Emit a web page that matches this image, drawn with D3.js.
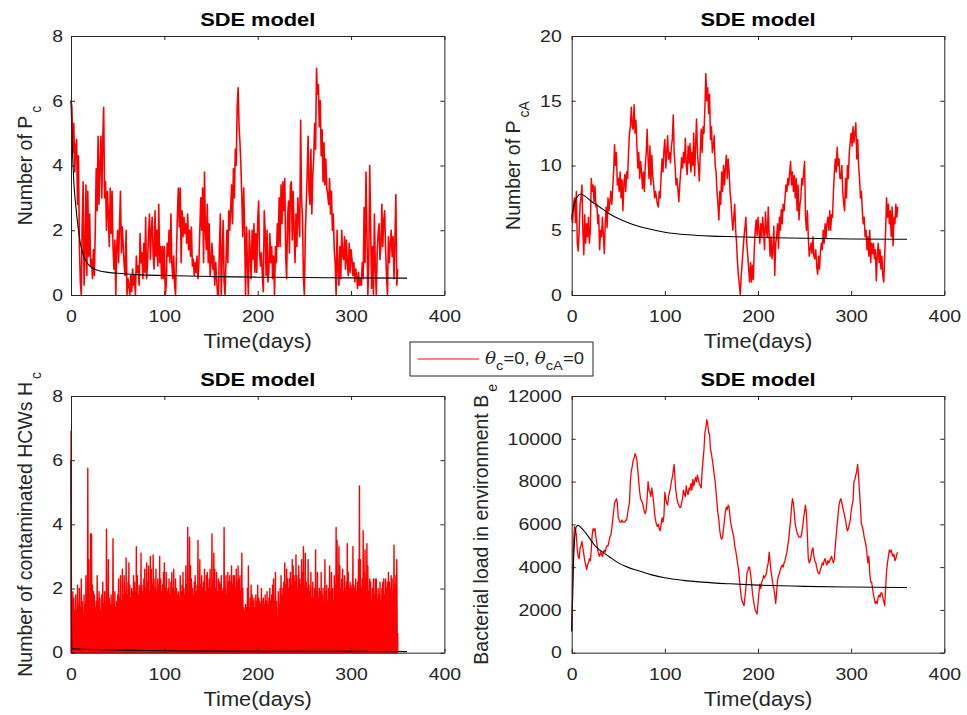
<!DOCTYPE html>
<html><head><meta charset="utf-8">
<script src="https://cdn.jsdelivr.net/npm/d3@7"></script>
<style>
body{margin:0;background:#fff}
text{font-family:"Liberation Sans",Arial,Helvetica,sans-serif;fill:#262626}
</style>
</head><body>
<svg id="c" width="967" height="715"></svg>
<script>
// ---------- tick values ----------
const xTicks = [0, 100, 200, 300, 400];
const pcTicks = [0, 2, 4, 6, 8];
const pcaTicks = [0, 5, 10, 15, 20];
const hcTicks = [0, 2, 4, 6, 8];
const beTicks = [0, 2000, 4000, 6000, 8000, 10000, 12000];

// ---------- SDE paths (one value per day, day 0..350) ----------
const pcRed = [
6.0,5.8,4.4,5.3,3.8,4.6,4.8,2.8,4.3,1.5, 0.4,0,2.2,3.5,0.3,1.3,3.4,0.6,3.2,1.2,
2.5,0.9,1.1,0.5,1.4,0.6,2.0,3.9,2.6,4.9, 2.8,4.0,4.9,3.0,4.8,5.8,3.0,3.5,2.0,3.2,
2.5,1.5,3.3,1.9,3.2,1.5,0.8,1.7,0,1.5, 2.0,1.0,2.2,3.2,1.3,2.1,1.5,0.9,0.6,2.0,
0,0.5,0.3,0,0.6,0.1,0.8,0.3,0.6,0, 1.2,0.7,0.9,0.3,1.9,1.0,1.3,0.5,1.6,0.7,
2.4,0.5,1.0,1.8,2.5,1.1,2.0,2.4,1.2,0.8, 2.6,1.2,2.0,0.9,2.8,1.0,1.5,0.5,1.5,0.5,
1.5,0,0.3,1.6,1.2,2.0,1.0,2.5,1.0,0.5, 1.2,0.3,0,1.3,2.5,3.3,2.1,3.3,1.0,2.6,
1.8,2.4,1.9,2.2,1.6,2.5,1.4,2.0,1.2,2.1, 0.9,1.1,0.6,1.0,0.7,1.2,0.5,1.0,2.0,3.0,
2.0,3.3,1.0,3.8,2.0,1.4,2.8,1.0,2.2,0.6, 1.0,1.6,0.8,1.2,0.3,1.0,0.5,0,0,1.5,
2.5,0,1.2,2.3,0.4,0,1.0,2.0,1.0,2.6, 2.0,2.6,3.4,2.2,3.9,3.0,4.5,4.0,5.8,6.4,
5.2,4.7,4.0,3.0,1.8,3.3,2.0,0,2.1,1.0, 0,2.0,1.3,0.5,2.0,1.1,2.2,0.7,1.9,0.7,
2.3,2.9,1.3,0.9,1.3,0.6,0.1,2.6,2.0,0.6, 2.0,0.4,0.8,1.9,1.0,1.5,0.5,1.2,0,1.5,
1.0,2.2,1.5,3.0,1.5,3.4,2.2,3.5,2.6,3.6, 1.2,0.5,2.4,2.9,1.3,3.4,3.5,1.7,3.2,2.0,
1.0,2.5,1.5,3.0,2.4,1.8,5.4,2.9,2.4,0.5, 0,1.9,2.8,3.7,4.9,3.2,2.8,4.5,2.5,3.7,
4.2,5.3,4.5,7.0,6.2,6.5,5.2,6.0,4.3,5.1, 3.5,4.7,3.4,4.2,3.3,3.1,2.8,3.6,2.5,3.2,
2.0,2.5,1.4,1.0,0,2.0,0.8,0.3,1.5,0.5, 2.0,1.2,1.1,1.8,0.8,1.7,1.0,0.6,1.6,0.7,
1.4,1.1,0.6,1.0,0.4,0.8,0.6,0.2,0.7,0.3, 0.5,0.3,1.0,0.5,2.7,1.0,3.8,2.0,0,1.0,
4.0,2.1,0.2,1.5,0,2.5,0.9,0,1.3,1.9, 2.2,1.1,1.5,2.8,1.5,2.3,2.6,1.4,0.6,0,
1.8,1.0,1.6,2.0,1.2,1.8,0.5,1.7,3.1,0.3,0.8];

const pcaRed = [
6.0,5.6,7.0,7.5,5.6,8.0,4.0,3.4,5.0,7.0, 7.5,8.5,5.0,3.1,6.2,4.0,5.5,4.5,6.0,4.0,
5.0,9.0,8.0,8.5,7.2,8.4,6.8,7.0,5.5,6.2, 3.5,5.0,4.5,6.0,4.6,3.2,5.5,6.8,5.2,7.5,
6.5,7.2,8.0,7.0,8.2,9.5,11.6,10.0,11.0,8.5, 9.0,8.0,9.5,7.5,8.9,6.5,8.5,9.3,8.0,9.5,
9.0,11.0,12.5,13.0,14.5,13.0,12.8,14.7,12.5,13.5, 11.5,9.8,11.0,9.0,10.3,9.5,8.2,9.5,8.0,10.0,
11.0,12.8,10.5,9.0,11.5,8.5,10.8,9.2,8.5,7.5, 8.0,7.5,7.0,6.8,8.0,7.5,9.2,10.5,9.5,11.2,
12.0,9.8,11.0,12.3,10.5,11.0,10.2,11.5,12.0,13.9, 11.0,10.0,8.5,9.0,8.2,7.2,8.5,9.5,10.6,9.8,
11.0,10.2,12.1,10.0,9.3,11.5,10.2,11.7,9.5,11.0, 10.0,12.5,9.2,11.5,13.6,11.0,10.0,8.8,11.0,12.8,
11.0,13.0,12.5,14.5,17.1,15.0,16.0,14.0,15.5,12.0, 13.0,11.0,11.5,12.3,10.0,9.5,8.0,7.0,5.8,8.0,
7.0,9.5,8.0,10.0,8.5,9.8,10.8,9.0,10.5,9.5, 8.0,7.2,6.0,5.0,6.0,7.0,5.0,4.0,2.5,1.5,
0.8,0.0,1.5,2.5,3.5,4.5,5.2,6.0,4.0,3.0, 2.0,1.0,2.5,1.0,2.3,1.2,3.5,5.0,5.8,4.6,
6.0,5.0,4.0,5.5,4.5,6.0,5.0,3.5,6.4,5.0, 4.5,6.8,4.5,3.0,4.5,2.8,3.6,5.3,1.5,4.0,
4.5,5.5,3.6,6.0,5.0,6.6,5.5,7.0,6.5,7.5, 8.5,8.0,9.0,8.5,9.5,10.3,8.5,9.5,8.0,9.2,
7.5,9.0,6.5,8.5,5.8,7.0,7.5,9.0,8.5,9.5, 10.3,6.0,5.0,6.5,4.5,3.0,3.5,4.0,3.2,4.5,
3.0,2.8,3.5,2.2,1.6,3.0,2.0,3.3,4.0,3.5, 5.0,4.0,5.5,4.4,5.5,6.0,5.0,6.5,5.0,6.2,
6.0,8.0,9.5,10.5,9.5,11.4,10.0,10.5,9.0,9.0, 10.0,8.0,7.0,6.5,9.0,7.5,10.0,9.0,11.0,11.8,
12.5,11.5,13.0,11.8,12.5,13.3,10.5,12.0,10.0,9.0, 7.5,8.0,6.5,5.5,6.0,4.5,5.0,3.5,4.5,3.0,
5.0,2.5,4.0,3.2,4.0,2.8,3.5,1.1,3.0,4.0, 2.5,3.5,2.0,3.0,1.5,1.0,3.0,5.0,7.5,6.0,
7.0,5.5,6.5,4.5,6.8,3.8,6.0,5.5,7.0,6.0,6.8];

// daily peak of the contaminated-HCW path (the path falls back to the trough between peaks)
const hcPeak = [
6.9,1.6,1.9,1.7,1.3,1.8,1.3,2.1,1.5,2.0, 1.4,2.3,1.6,1.2,1.8,1.5,2.4,1.5,5.75,2.9,
1.8,3.7,3.7,2.1,1.9,1.8,1.4,1.6,2.4,1.6, 1.9,1.7,1.3,1.8,2.2,1.5,1.9,1.6,3.85,1.5,
2.9,1.7,1.5,1.8,1.4,3.55,1.5,1.9,1.4,1.6, 1.8,2.3,1.7,2.4,1.6,2.6,1.8,2.4,1.9,2.95,
1.8,2.2,2.8,2.1,1.7,2.0,1.9,2.4,2.2,1.9, 3.3,2.4,1.8,2.1,2.0,3.1,2.1,1.9,2.3,2.6,
2.0,2.8,2.2,2.7,1.9,3.0,2.6,2.1,3.05,2.3, 2.0,2.6,1.9,2.3,2.1,3.0,2.3,1.9,2.1,2.5,
2.8,2.0,2.5,1.9,2.0,2.3,1.8,2.2,2.5,2.0, 2.6,1.9,2.3,2.0,1.8,1.9,1.7,2.4,1.9,2.1,
2.5,2.0,1.8,2.7,2.1,3.9,1.9,3.6,2.7,2.3, 2.0,1.8,2.2,2.4,1.9,2.1,3.5,2.0,2.9,2.1,
2.4,2.0,2.2,2.6,1.9,2.4,2.5,2.0,2.3,2.6, 2.0,3.7,2.2,3.1,2.6,2.0,2.5,1.9,2.3,2.2,
2.1,2.4,1.9,2.0,3.9,2.0,2.4,1.8,2.5,2.2, 2.4,2.2,2.7,2.1,2.4,2.4,2.0,2.6,2.2,2.7,
2.3,2.4,1.9,3.1,2.0,1.4,1.3,1.5,1.4,2.0, 2.7,1.4,1.7,2.1,1.8,1.6,1.7,1.4,1.8,1.6,
2.1,1.7,1.6,1.5,2.0,1.6,1.7,1.5,1.8,1.6, 1.9,1.5,1.7,2.0,1.6,1.8,2.1,2.3,1.6,2.5,
1.6,1.1,1.9,1.5,2.0,2.4,1.8,2.0,2.2,2.8, 2.1,2.6,2.3,2.0,2.3,2.5,2.1,2.9,2.7,2.4,
2.2,3.05,2.4,2.0,2.7,2.3,2.1,2.9,2.5,3.3, 2.0,3.1,2.2,2.0,2.9,2.1,1.9,2.5,1.7,2.2,
1.7,2.0,3.2,1.9,2.5,1.7,2.0,1.9,2.5,1.8, 2.0,1.6,2.9,1.9,2.1,1.6,2.0,2.7,1.9,2.5,
2.0,1.6,2.4,2.1,3.9,3.5,2.4,3.3,2.7,2.0, 2.3,2.6,1.9,2.4,2.0,2.2,3.4,2.5,2.0,2.2,
2.1,2.0,3.3,2.1,2.0,2.3,1.9,2.2,2.9,5.2, 2.9,2.0,2.3,3.8,2.5,3.2,2.3,3.4,2.7,1.9,
2.3,2.2,1.6,2.0,2.3,1.8,2.3,2.3,1.7,2.0, 1.8,2.2,1.6,2.0,2.2,2.3,1.8,2.3,2.0,2.2,
2.5,2.2,2.0,2.4,2.3,1.9,3.35,2.1,2.4,2.9,0.6];
const hcTrough = 0;

const beRed = [
1000,3800,5200,5900,5800,5500,4800,4500,4400,4900, 5000,5200,4900,4600,4300,4100,3900,4100,4200,4400,
4300,4800,5500,5800,5700,5800,5400,5100,4800,4600, 4500,4700,4600,4500,4700,4800,4700,4900,5000,5000,
5200,5400,5500,5800,6200,6600,7000,7100,7200,7000, 6300,6200,6100,6100,6200,6100,6100,6100,6200,6200,
6500,6800,7000,8000,8500,8700,9000,9100,9300,9200, 9000,8500,8000,7500,7200,7100,7000,6800,6600,6500,
6700,7200,8000,7600,7500,7300,7700,7400,7000,6500, 6200,6000,5900,6000,5800,5700,6000,6300,6100,6400,
7500,7200,7000,6900,7300,7500,7700,8000,8200,8500, 8800,8000,7500,7200,7000,6900,6800,6800,7000,7200,
7600,7400,7300,7800,7500,7400,7700,7600,7900,7600, 8100,7800,8000,8200,8000,8300,8100,7900,7800,7700,
8500,9000,9500,10300,10500,10900,10700,10300,10200,9500, 9300,9000,8700,8300,8000,7500,7000,6500,6200,5700,
5400,5300,5400,5800,6200,6600,6800,6700,6900,6800, 6300,6000,5800,5600,5400,5000,4800,4500,4200,3900,
3500,3000,2600,2400,2300,2200,2600,3000,3700,3800, 4000,4000,3700,3300,2800,2500,2200,2000,1900,1800,
2300,2800,3200,3000,3300,3400,3600,3500,3600,3700, 4000,4200,4700,4200,3800,3500,3200,3000,2700,2300,
2800,3400,3600,3700,3900,4000,4100,4000,4200,4300, 4500,4700,5000,5300,5800,6200,6800,7200,7000,6500,
6000,5800,5600,5500,5400,5400,5400,5600,5900,6300, 6600,6900,6500,5500,4400,4200,4300,4500,4800,4900,
4500,4300,4200,4000,3800,3700,3700,3900,4000,4200, 4100,4300,4400,4200,4100,4300,4200,4300,4400,4500,
4300,4200,4400,5000,5500,6000,6500,6900,7100,7200, 7000,6800,6600,6400,6200,5900,5700,5800,6000,6200,
6600,6900,7100,8000,8100,8300,8500,8800,8200,7500, 6800,6000,5900,5700,5400,5200,5000,4600,4200,4500,
3700,3300,3300,3000,2700,2500,2300,2400,2300,2600, 2700,2600,2800,2800,2600,2400,2200,3000,3800,4200,
4500,4800,4700,4800,4600,4500,4600,4300,4400,4600,4700];

// ---------- deterministic (ODE) curves ----------
const pcBlackT = [0,1,2,3,4,5,6,8,10,12,15,20,25,30,40,50,70,100,150,200,250,300,360];
const pcBlack  = [6.0,4.9,4.1,3.5,3.1,2.8,2.5,2.0,1.6,1.35,1.1,0.9,0.8,0.75,0.7,0.67,0.63,0.6,0.57,0.55,0.54,0.53,0.52];
const pcaBlackT = [0,2,4,6,10,15,20,30,40,50,60,70,80,100,125,150,175,200,250,300,360];
const pcaBlack  = [6.0,6.8,7.3,7.6,7.8,7.6,7.3,6.8,6.3,5.9,5.6,5.35,5.15,4.85,4.65,4.55,4.5,4.45,4.38,4.33,4.3];
const hcBlackT = [0,0.3,0.6,1,2,5,10,20,50,100,200,300,360];
const hcBlack  = [6.0,2.0,0.5,0.15,0.12,0.12,0.11,0.1,0.08,0.06,0.045,0.04,0.035];
const beBlackT = [0,1,2,3,4,5,7,10,15,20,25,30,40,50,60,70,85,100,120,140,170,200,250,300,360];
const beBlack  = [1000,2500,4300,5200,5700,5900,5950,5850,5600,5300,5000,4800,4500,4200,4000,3850,3650,3500,3380,3300,3220,3160,3100,3070,3050];

// ---------- text ----------
const titleText = "SDE model";
const xLabelText = "Time(days)";

const svg = d3.select("#c");
const AX = "#262626";
const SX = 1.18; // horizontal glyph stretch of the reference

// Hc path: starts on the baseline, rises to each daily peak and falls back to the trough
const hcPath = [[0, hcTrough]].concat(
  hcPeak.flatMap((v,i)=> i < hcPeak.length-1 ? [[i,v],[i+0.5,hcTrough]] : [[i,v],[i,hcTrough]]));

const panels = [
  {id:"a", xr:[71,444.4], yr:[295,36], yd:[0,8], yt:pcTicks,
   red: pcRed.map((v,i)=>[i,v]), black: pcBlackT.map((t,i)=>[t,pcBlack[i]]),
   ylab:["Number of P","c"], labX:32, gap:8, rw:1.6, fill:false},
  {id:"b", xr:[571.7,944.3], yr:[295,36], yd:[0,20], yt:pcaTicks,
   red: pcaRed.map((v,i)=>[i,v]), black: pcaBlackT.map((t,i)=>[t,pcaBlack[i]]),
   ylab:["Number of P","cA"], labX:520, gap:10, rw:1.5, fill:false},
  {id:"c", xr:[71,444.4], yr:[652.7,396], yd:[0,8], yt:hcTicks,
   red: hcPath, black: hcBlackT.map((t,i)=>[t,hcBlack[i]]),
   ylab:["Number of contaminated HCWs H","c"], labX:32, gap:8, rw:1.4, fill:true},
  {id:"d", xr:[571.7,944.3], yr:[652.7,396], yd:[0,12000], yt:beTicks,
   red: beRed.map((v,i)=>[i,v]), black: beBlackT.map((t,i)=>[t,beBlack[i]]),
   ylab:["Bacterial load in environment B","e"], labX:488, gap:10, rw:1.3, fill:false}
];

const defs = svg.append("defs");

panels.forEach(p => {
  const x = d3.scaleLinear().domain([0,400]).range(p.xr);
  const y = d3.scaleLinear().domain(p.yd).range(p.yr);
  const g = svg.append("g");

  defs.append("clipPath").attr("id","clip"+p.id).append("rect")
    .attr("x",p.xr[0]-1).attr("y",p.yr[1]-1)
    .attr("width",p.xr[1]-p.xr[0]+2).attr("height",p.yr[0]-p.yr[1]+2);

  const plot = g.append("g").attr("clip-path",`url(#clip${p.id})`);
  const line = d3.line().x(d=>x(d[0])).y(d=>y(d[1]));
  plot.append("path").attr("d", line(p.red) + (p.fill ? "Z" : ""))
    .attr("fill", p.fill ? "#ff0000" : "none").attr("stroke","#ff0000").attr("stroke-width",p.rw)
    .attr("stroke-linejoin","round");
  const sline = d3.line().curve(d3.curveMonotoneX).x(d=>x(d[0])).y(d=>y(d[1]));
  plot.append("path").attr("d", sline(p.black))
    .attr("fill","none").attr("stroke","#000").attr("stroke-width",1.1);

  // axes (MATLAB-style box with inward ticks)
  const fmt = d3.format("d");
  const gb = g.append("g").attr("transform",`translate(0,${p.yr[0]})`)
    .call(d3.axisBottom(x).tickValues(xTicks).tickFormat(fmt).tickSizeInner(-4).tickSizeOuter(0).tickPadding(15.5));
  const gt = g.append("g").attr("transform",`translate(0,${p.yr[1]})`)
    .call(d3.axisTop(x).tickValues(xTicks).tickFormat("").tickSizeInner(-4).tickSizeOuter(0));
  const gl = g.append("g").attr("transform",`translate(${p.xr[0]},0)`)
    .call(d3.axisLeft(y).tickValues(p.yt).tickFormat(fmt).tickSizeInner(-4).tickSizeOuter(0));
  const gr = g.append("g").attr("transform",`translate(${p.xr[1]},0)`)
    .call(d3.axisRight(y).tickValues(p.yt).tickFormat("").tickSizeInner(-4).tickSizeOuter(0));
  [gb,gt,gl,gr].forEach(a => {
    a.attr("color",AX).attr("font-size",16.5).attr("font-family",null);
    a.select(".domain").attr("stroke-width",1);
    a.selectAll(".tick line").attr("stroke-width",1);
  });
  gb.selectAll("text").attr("transform",`scale(${SX},1)`);
  gl.selectAll("text").attr("x",-p.gap/SX).attr("transform",`scale(${SX},1)`);

  const cx = (p.xr[0]+p.xr[1])/2;
  // title
  svg.append("text").attr("transform",`translate(${cx},${p.yr[1]-10}) scale(${SX},1)`)
    .attr("text-anchor","middle").attr("font-size",18.5).attr("font-weight","bold")
    .style("fill","#000").text(titleText);
  // x label
  svg.append("text").attr("transform",`translate(${cx},${p.yr[0]+53}) scale(1.12,1)`)
    .attr("text-anchor","middle").attr("font-size",19.5).text(xLabelText);
  // y label
  const cy = (p.yr[0]+p.yr[1])/2;
  const yl = svg.append("text").attr("transform",`translate(${p.labX},${cy}) rotate(-90)`)
    .attr("text-anchor","middle").attr("font-size",19.5);
  yl.append("tspan").text(p.ylab[0]);
  yl.append("tspan").attr("dx",3).attr("dy",9).attr("font-size",14).text(p.ylab[1]);
});

// ---------- legend ----------
const legendLabel = [["θ","i"],["c","s"],["=0, ",""],["θ","i"],["cA","s"],["=0",""]];
const lg = svg.append("g");
lg.append("rect").attr("x",410).attr("y",342).attr("width",183).attr("height",34)
  .attr("fill","#fff").attr("stroke",AX).attr("stroke-width",1);
lg.append("line").attr("x1",418).attr("x2",479).attr("y1",359).attr("y2",359)
  .attr("stroke","#ff0000").attr("stroke-width",1);
const lt = lg.append("text").attr("font-size",17).attr("transform","translate(485,364)");
let down = false;
legendLabel.forEach(([s,k]) => {
  const ts = lt.append("tspan").text(s);
  if (k==="i") ts.attr("font-style","italic").attr("font-family","DejaVu Serif, Liberation Serif, serif");
  if (k==="s") { ts.attr("font-size",13.5).attr("dy",6); down = true; }
  else if (down) { ts.attr("dy",-6); down = false; }
});
const w = lt.node().getComputedTextLength();
lt.attr("transform",`translate(485,364) scale(${99/w},1)`);
</script>
</body></html>
